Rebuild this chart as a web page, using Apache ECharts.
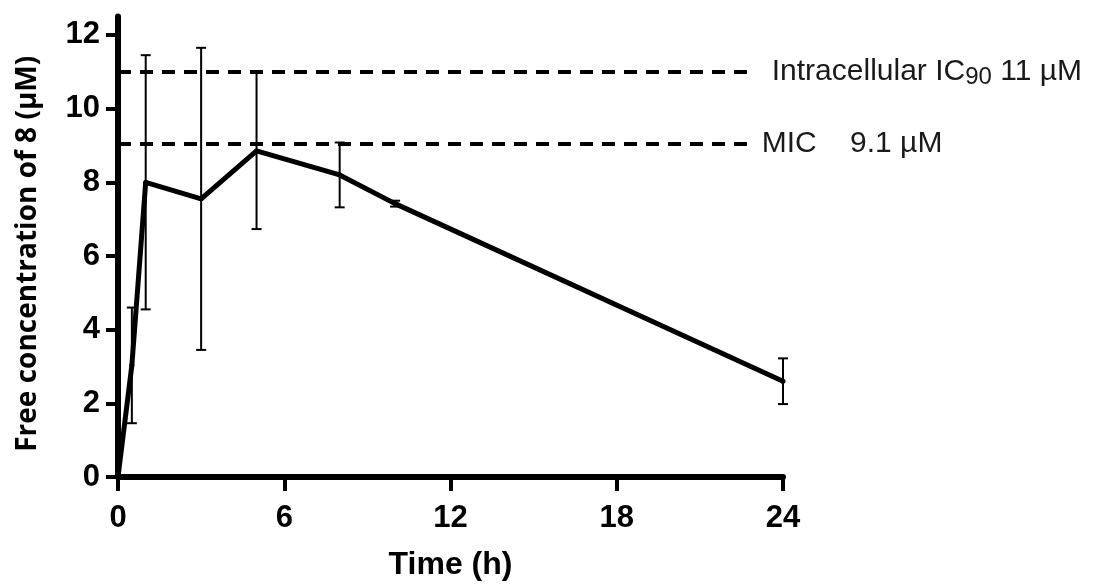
<!DOCTYPE html>
<html lang="en">
<head>
    <meta charset="UTF-8">
    <title>Free concentration of 8</title>
    <script src="https://cdn.jsdelivr.net/npm/echarts@6/dist/echarts.min.js"></script>
</head>
<body style="margin:0">
    <div id="chart" style="width: 1100px;height:586px"></div>
<script>
    // sampling times (h), mean free concentration (uM) and error (+/-)
    var times = [0, 0.5, 1, 3, 5, 8, 10, 24];
    var means = [0, 3.03, 8.0, 7.55, 8.85, 8.2, 7.42, 2.6];
    var errs = [0, 1.57, 3.45, 4.1, 2.12, 0.88, 0.08, 0.62];

    // reference levels
    var refNames = ['Intracellular IC90', 'MIC'];
    var refValues = [11, 9.05];
    var refLabels = ['{t|Intracellular IC}{s|90}{t| 11 µM}', '{t|MIC    9.1 µM}'];
    var refEnd = 22.8;

    var yTicks = [0, 2, 4, 6, 8, 10, 12];

    var chart = echarts.init(document.getElementById('chart'));

    var lineData = times.map(function (t, i) { return [t, means[i]]; });
    var errData = times.map(function (t, i) { return [t, means[i] - errs[i], means[i] + errs[i]]; });

    var markData = refValues.map(function (v, i) {
        return [{
            coord: [0, v],
            label: {distance: i === 0 ? 22 : 12, formatter: refLabels[i]}
        }, {coord: [refEnd, v]}];
    });

    var boldFont = '"Liberation Sans", Arial, sans-serif';

    var option = {
        animation: false,
        grid: {
            left: 118,
            right: 317,
            top: 16.5,
            bottom: 107
        },
        xAxis: {
            type: 'value',
            min: 0,
            max: 24,
            interval: 6,
            name: 'Time (h)',
            nameLocation: 'middle',
            nameGap: 72,
            nameTextStyle: {
                fontFamily: boldFont,
                fontWeight: 'bold',
                fontSize: 32,
                color: '#000'
            },
            splitLine: {show: false},
            axisLine: {lineStyle: {color: '#000', width: 6}},
            axisTick: {length: 14, lineStyle: {color: '#000', width: 4}},
            axisLabel: {
                margin: 26,
                fontFamily: boldFont,
                fontWeight: 'bold',
                fontSize: 31,
                color: '#000'
            }
        },
        yAxis: {
            type: 'value',
            min: 0,
            max: 12.5,
            name: 'Free concentration of 8 (µM)',
            nameLocation: 'middle',
            nameGap: 76,
            nameTextStyle: {
                fontFamily: '"Open Sans", sans-serif',
                fontWeight: 'bold',
                fontSize: 28,
                color: '#000',
                padding: [0, 14, 0, 0]
            },
            splitLine: {show: false},
            axisLine: {lineStyle: {color: '#000', width: 6}},
            axisTick: {length: 12, customValues: yTicks, lineStyle: {color: '#000', width: 4}},
            axisLabel: {
                margin: 18,
                customValues: yTicks,
                fontFamily: boldFont,
                fontWeight: 'bold',
                fontSize: 31,
                color: '#000'
            }
        },
        series: [{
            name: 'errors',
            type: 'custom',
            z: 3,
            renderItem: function (params, api) {
                var x = api.value(0);
                var lo = api.coord([x, api.value(1)]);
                var hi = api.coord([x, api.value(2)]);
                var w = 5;
                var style = {stroke: '#000', lineWidth: 2};
                return {
                    type: 'group',
                    children: [
                        {type: 'line', shape: {x1: lo[0], y1: lo[1], x2: hi[0], y2: hi[1]}, style: style},
                        {type: 'line', shape: {x1: hi[0] - w, y1: hi[1], x2: hi[0] + w, y2: hi[1]}, style: style},
                        {type: 'line', shape: {x1: lo[0] - w, y1: lo[1], x2: lo[0] + w, y2: lo[1]}, style: style}
                    ]
                };
            },
            data: errData
        }, {
            name: 'concentration',
            type: 'line',
            z: 4,
            symbol: 'circle',
            symbolSize: 5,
            itemStyle: {color: '#000'},
            lineStyle: {color: '#000', width: 5},
            data: lineData,
            markLine: {
                silent: true,
                symbol: 'none',
                lineStyle: {color: '#000', width: 4, type: [13, 9]},
                label: {
                    position: 'end',
                    rich: {
                        t: {
                            fontFamily: boldFont,
                            fontSize: 30,
                            lineHeight: 36,
                            color: '#1a1a1a'
                        },
                        s: {
                            fontFamily: boldFont,
                            fontSize: 24,
                            color: '#1a1a1a',
                            verticalAlign: 'bottom'
                        }
                    }
                },
                data: markData
            }
        }]
    };
    chart.setOption(option);
</script>
</body>
</html>
